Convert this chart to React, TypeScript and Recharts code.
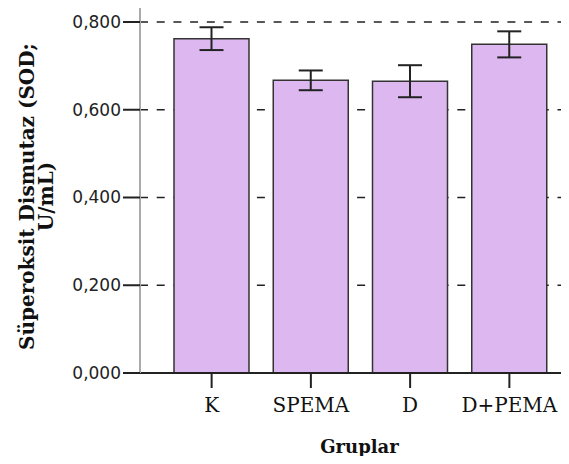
import { Bar, BarChart, CartesianGrid, ErrorBar, XAxis, YAxis } from 'recharts';

const groups = ['K', 'SPEMA', 'D', 'D+PEMA'];
const sodMeans = [0.762, 0.667, 0.665, 0.749];
const sodErrors = [0.026, 0.0225, 0.0365, 0.0297];
const yTicks = [0, 0.2, 0.4, 0.6, 0.8];

const data = groups.map((group, i) => ({ group, sod: sodMeans[i], err: sodErrors[i] }));

const formatTick = (value: number) => value.toFixed(3).replace('.', ',');

const serif = '"DejaVu Serif", serif';

const YLabel = ({ viewBox }: any) => {
  const cy = viewBox.y + viewBox.height / 2 + 8;
  const style = { fontFamily: serif, fontWeight: 700, fontSize: 20, fill: '#111' };
  return (
    <g>
      <text x={34} y={cy} textAnchor="middle" transform={`rotate(-90 34 ${cy})`} style={style}>
        Süperoksit Dismutaz (SOD;
      </text>
      <text x={53} y={cy} textAnchor="middle" transform={`rotate(-90 53 ${cy})`} style={style}>
        U/mL)
      </text>
    </g>
  );
};

const XLabel = ({ viewBox }: any) => (
  <text
    x={viewBox.x + viewBox.width / 2 + 5}
    y={viewBox.y + 80}
    textAnchor="middle"
    style={{ fontFamily: serif, fontWeight: 700, fontSize: 18, fill: '#111' }}
  >
    Gruplar
  </text>
);

const XTick = ({ x, y, payload }: any) => (
  <text x={x} y={y} dy={14} textAnchor="middle" style={{ fontFamily: serif, fontSize: 20, fill: '#111' }}>
    {payload.value}
  </text>
);

const YTick = ({ x, y, payload }: any) => (
  <text
    x={x}
    y={y}
    dy={6}
    textAnchor="end"
    style={{ fontFamily: '"DejaVu Sans", sans-serif', fontSize: 17, fill: '#222' }}
  >
    {formatTick(payload.value)}
  </text>
);

export default function App() {
  return (
    <div style={{ margin: -8, background: '#fff', width: 569, height: 464 }}>
      <BarChart
        width={569}
        height={464}
        data={data}
        margin={{ top: 4, right: 0, left: 0, bottom: 0 }}
        barCategoryGap={12}
      >
        <CartesianGrid
          vertical={false}
          horizontalValues={[0.2, 0.4, 0.6, 0.8]}
          stroke="#222"
          strokeWidth={1.6}
          strokeDasharray="8 8.7"
        />
        <XAxis
          dataKey="group"
          height={91}
          padding={{ left: 22, right: 10 }}
          axisLine={{ stroke: '#222', strokeWidth: 2 }}
          tickLine={{ stroke: '#222', strokeWidth: 2 }}
          tickSize={15}
          tickMargin={10}
          tick={XTick}
          label={XLabel}
        />
        <YAxis
          width={140}
          domain={[0, 0.841]}
          ticks={yTicks}
          axisLine={{ stroke: '#aaa', strokeWidth: 2 }}
          tickLine={{ stroke: '#222', strokeWidth: 2 }}
          tickSize={17}
          tickMargin={2}
          tick={YTick}
          label={YLabel}
        />
        <Bar dataKey="sod" fill="#ddb8f0" stroke="#333" strokeWidth={1.5} isAnimationActive={false}>
          <ErrorBar dataKey="err" width={12} stroke="#222" strokeWidth={2} isAnimationActive={false} />
        </Bar>
      </BarChart>
    </div>
  );
}
